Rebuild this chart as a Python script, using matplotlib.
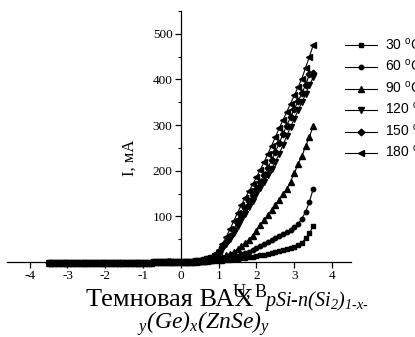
import numpy as np
import matplotlib
matplotlib.use("Agg")
import matplotlib.pyplot as plt
from matplotlib.ticker import MultipleLocator

plt.rcParams['font.family'] = 'Liberation Serif'
plt.rcParams['axes.unicode_minus'] = False
plt.rcParams['mathtext.fontset'] = 'custom'
plt.rcParams['mathtext.rm'] = 'Liberation Serif'
plt.rcParams['mathtext.it'] = 'Liberation Serif:italic'

# voltage grid, 0.1 V step
U = np.round(np.arange(-35, 36) / 10.0, 1)

# reverse branch (U < 0), mA, nearly the same for all temperatures
i_rev = [-2.2, -2.2, -2.1, -2.1, -2.1, -2.0, -2.0, -2.0, -1.9, -1.9,
         -1.9, -1.8, -1.8, -1.8, -1.7, -1.7, -1.7, -1.6, -1.6, -1.6,
         -1.5, -1.5, -1.4, -1.4, -1.3, -1.3, -1.2, -1.1, -1.0, -0.9,
         -0.8, -0.7, -0.5, -0.4, -0.2]

# forward branch (U = 0 .. 3.5), mA
i30 = [0, 0.1, 0.2, 0.3, 0.5, 0.7, 1.0, 1.3, 1.7, 2.1, 2.6, 3.2, 3.9, 4.7, 5.6,
       6.6, 7.7, 8.9, 10.2, 11.6, 13.1, 14.6, 16.2, 18.0, 19.8, 21.8, 23.8,
       26.0, 28.3, 30.8, 33.5, 36.8, 42, 52, 63, 79]
i60 = [0, 0.1, 0.2, 0.4, 0.6, 0.9, 1.3, 1.9, 2.7, 3.7, 4.9, 6.3, 7.9, 9.7, 11.7,
       14.0, 16.6, 19.4, 22.6, 26.0, 30.0, 34.0, 38.5, 43.5, 48.0, 52.0, 56.5,
       61.0, 65.5, 70.5, 76.0, 84.0, 95.0, 110.0, 132.0, 160.0]
i90 = [0, 0.1, 0.3, 0.5, 0.8, 1.3, 2.0, 3.0, 4.5, 6.5, 9.0, 12.0, 15.0, 18.5,
       22.5, 28.0, 34.5, 41.5, 49.0, 58.0, 68.0, 80.0, 91.0, 102.0, 113.0, 124.0,
       136.0, 148.0, 160.0, 176.0, 195.0, 214.0, 232.0, 254.0, 274.0, 298.0]
i120 = [0, 0.2, 0.4, 0.8, 1.4, 2.3, 3.6, 5.5, 8.0, 13.0, 20.0, 29.0, 39.0, 51.0,
        64.0, 78.0, 92.0, 106.0, 120.0, 134.0, 148.0, 162.0, 176.0, 190.0, 204.0,
        220.0, 237.0, 256.0, 276.0, 296.0, 314.0, 332.0, 350.0, 368.0, 387.0, 405.0]
i150 = [0, 0.2, 0.5, 0.9, 1.6, 2.6, 4.0, 6.2, 9.5, 15.0, 23.0, 33.0, 44.0, 57.0,
        71.0, 89.0, 104.0, 118.0, 133.0, 147.0, 161.0, 176.0, 191.0, 206.0, 223.0,
        241.0, 260.0, 280.0, 299.0, 317.0, 335.0, 352.0, 370.0, 388.0, 412.0, 415.0]
i180 = [0, 0.2, 0.6, 1.1, 1.9, 3.0, 4.8, 7.5, 11.5, 18.0, 27.0, 39.0, 55.0, 72.0,
        90.0, 108.0, 125.0, 140.0, 155.0, 170.0, 186.0, 202.0, 219.0, 237.0, 255.0,
        274.0, 293.0, 311.0, 329.0, 347.0, 365.0, 383.0, 402.0, 426.0, 450.0, 475.0]

temps = ['30', '60', '90', '120', '150', '180']
curves = [i30, i60, i90, i120, i150, i180]
markers = ['s', 'o', '^', 'v', 'D', '<']
msizes = [3.2, 3.2, 3.8, 3.8, 3.4, 3.8]

fig = plt.figure(figsize=(4.15, 3.37), dpi=100)
ax = fig.add_axes([7 / 415, 75 / 337, 344 / 415, 251 / 337])

for t, cur, m, ms in zip(temps, curves, markers, msizes):
    I = np.array(i_rev + cur)
    ax.plot(U, I, color='black', lw=0.8, marker=m, ms=ms, clip_on=False,
            label='%s $^\\mathregular{o}$C' % t)

ax.set_xlim(-4.6, 4.5)
ax.set_ylim(0, 550)
ax.spines['left'].set_position(('data', 0))
ax.spines['bottom'].set_position(('data', 0))
ax.spines['top'].set_visible(False)
ax.spines['right'].set_visible(False)
for s in ['left', 'bottom']:
    ax.spines[s].set_linewidth(0.9)

ax.set_xticks([-4, -3, -2, -1, 0, 1, 2, 3, 4])
ax.set_yticks([0, 100, 200, 300, 400, 500])
ax.yaxis.set_minor_locator(MultipleLocator(50))
ax.tick_params(axis='both', which='major', direction='out', length=4,
               width=0.9, labelsize=9.5, pad=2)
ax.tick_params(axis='y', which='minor', direction='out', length=2.5, width=0.8)
for lab in ax.get_xticklabels() + ax.get_yticklabels():
    lab.set_fontfamily('Liberation Serif')

fig.text(130 / 415, 1 - 158 / 337, 'I, мА', rotation=90, fontsize=12,
         ha='center', va='center')
fig.text(250 / 415, 1 - 296 / 337, 'U, B', fontsize=13, ha='center',
         va='baseline')

fig.text(86 / 415, 1 - 306 / 337, 'Темновая ВАХ', fontsize=19,
         ha='left', va='baseline')
fig.text(264 / 415, 1 - 306 / 337,
         'pSi\u2010n(Si$_\\mathregular{2}$)$_\\mathregular{1\u2010x\u2010}$',
         fontsize=14.5, style='italic', ha='left', va='baseline')
fig.text(137 / 415, 1 - 329 / 337,
         '$_\\mathregular{y}$(Ge)$_\\mathregular{x}$(ZnSe)$_\\mathregular{y}$',
         fontsize=17, style='italic', ha='left', va='baseline')

fig.legend(loc='upper left', bbox_to_anchor=(345 / 415, 1 - 38 / 337),
           frameon=False, borderpad=0, borderaxespad=0, handlelength=2.3,
           handletextpad=0.55, labelspacing=0.45,
           prop={'family': 'Liberation Sans', 'size': 10})

fig.savefig('out.png', dpi=100)
